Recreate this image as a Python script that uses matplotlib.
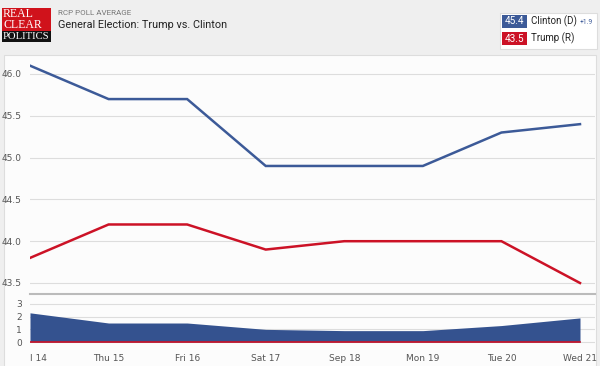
import matplotlib
matplotlib.use("Agg")
import matplotlib.pyplot as plt
from matplotlib.patches import Rectangle
import numpy as np

dates = ["l 14", "Thu 15", "Fri 16", "Sat 17", "Sep 18", "Mon 19", "Tue 20", "Wed 21"]
clinton = [46.1, 45.7, 45.7, 44.9, 44.9, 44.9, 45.3, 45.4]
trump = [43.8, 44.2, 44.2, 43.9, 44.0, 44.0, 44.0, 43.5]
spread = [c - t for c, t in zip(clinton, trump)]
main_ticks = [43.5, 44.0, 44.5, 45.0, 45.5, 46.0]
spread_ticks = [0, 1, 2, 3]

BLUE = "#3c5a98"
RED = "#cc1226"
FILL = "#34528f"
W, H = 600, 366

fig = plt.figure(figsize=(6, 3.66), dpi=100)
fig.patch.set_facecolor("#efefef")

def fx(px):
    return px / W

def fy(py):
    return 1 - py / H

# white panel
fig.patches.append(Rectangle((fx(4), -0.01), fx(592), fy(55) + 0.01, transform=fig.transFigure,
                             facecolor="#fcfcfc", edgecolor="#dddddd", lw=0.8, zorder=-10))

# logo
fig.patches.append(Rectangle((fx(2), fy(31)), fx(49), 23 / H, transform=fig.transFigure,
                             facecolor="#d0121b", edgecolor="none", zorder=1))
fig.patches.append(Rectangle((fx(2), fy(42)), fx(49), 11 / H, transform=fig.transFigure,
                             facecolor="#111111", edgecolor="none", zorder=1))
fig.text(fx(3), fy(14), "REAL", color="white", fontsize=8.5, family="Liberation Serif",
         va="center", ha="left")
fig.text(fx(3), fy(25), "CLEAR", color="white", fontsize=8.5, family="Liberation Serif",
         va="center", ha="left")
fig.text(fx(2.5), fy(36.5), "POLITICS", color="white", fontsize=7.7, family="Liberation Serif",
         va="center", ha="left")

# header text
fig.text(fx(58), fy(13), "RCP POLL AVERAGE", color="#777777", fontsize=5.8, va="center",
         family="Roboto")
fig.text(fx(58), fy(25.5), "General Election: Trump vs. Clinton", color="#222222", fontsize=7.8,
         va="center", family="Roboto")

# legend box
fig.patches.append(Rectangle((fx(500), fy(49)), fx(97), 36 / H, transform=fig.transFigure,
                             facecolor="white", edgecolor="#dddddd", lw=0.8, zorder=1))
fig.patches.append(Rectangle((fx(502), fy(28)), fx(25), 13 / H, transform=fig.transFigure,
                             facecolor=BLUE, edgecolor="none", zorder=2))
fig.patches.append(Rectangle((fx(502), fy(45)), fx(25), 13 / H, transform=fig.transFigure,
                             facecolor=RED, edgecolor="none", zorder=2))
fig.text(fx(514.5), fy(21.5), f"{clinton[-1]:.1f}", color="white", fontsize=7.2, ha="center",
         va="center", family="Roboto", zorder=3)
fig.text(fx(514.5), fy(38.5), f"{trump[-1]:.1f}", color="white", fontsize=7.2, ha="center",
         va="center", family="Roboto", zorder=3)
fig.text(fx(531), fy(21.5), "Clinton (D)", color="#222222", fontsize=7.0, va="center",
         family="Roboto", zorder=3)
fig.text(fx(580), fy(22), f"+{spread[-1]:.1f}", color="#3c5a98", fontsize=4.8, va="center",
         family="Roboto", zorder=3)
fig.text(fx(531), fy(38.5), "Trump (R)", color="#222222", fontsize=7.0, va="center",
         family="Roboto", zorder=3)

x = np.arange(len(dates))
xmax = 7 + 15 / 78.57

# main axes
ax = fig.add_axes([fx(30), fy(288), fx(565), 230 / H])
ax.set_facecolor("none")
ax.plot(x, clinton, color=BLUE, lw=1.8, solid_joinstyle="miter")
ax.plot(x, trump, color=RED, lw=1.8, solid_joinstyle="miter")
ax.set_xlim(0, xmax)
ax.set_ylim(43.5 - 5 / 83.6, 46.0 + 16 / 83.6)
ax.set_yticks(main_ticks)
ax.set_yticklabels([f"{v:.1f}" for v in main_ticks])
ax.yaxis.grid(True, color="#dddddd", lw=0.8)
ax.set_axisbelow(True)
ax.set_xticks([])
for s in ax.spines.values():
    s.set_visible(False)
ax.tick_params(axis="y", length=0, labelsize=6.5, labelcolor="#555555", pad=6)

# spread axes
ax2 = fig.add_axes([fx(30), fy(344), fx(565), 50 / H])
ax2.set_facecolor("none")
ax2.fill_between(x, 0, spread, color=FILL, lw=0)
ax2.axhline(0, color=RED, lw=1.2, xmin=0, xmax=7 / xmax)
ax2.set_xlim(0, xmax)
ax2.set_ylim(-0.15, 3.78)
ax2.set_yticks(spread_ticks)
ax2.yaxis.grid(True, color="#dddddd", lw=0.8)
ax2.set_axisbelow(True)
for k, s in ax2.spines.items():
    s.set_visible(k == "top")
ax2.spines["top"].set_color("#bbbbbb")
ax2.spines["top"].set_linewidth(1.5)
ax2.set_xticks(x)
ax2.set_xticklabels(dates)
ax2.get_xticklabels()[0].set_horizontalalignment("left")
ax2.tick_params(axis="y", length=0, labelsize=6.5, labelcolor="#555555", pad=6)
ax2.tick_params(axis="x", length=0, labelsize=6.5, labelcolor="#555555", pad=7)

fig.savefig("out.png", dpi=100, facecolor=fig.get_facecolor())
